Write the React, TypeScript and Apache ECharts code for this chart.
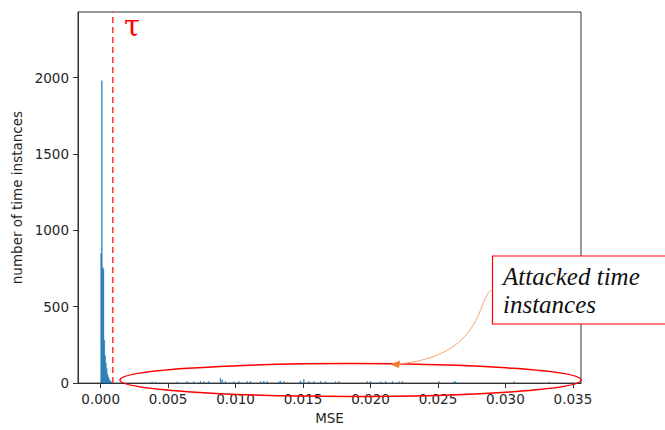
import React, { useEffect, useRef } from "react";
import * as echarts from "echarts";

// Histogram of MSE values (bin width in MSE units)
const binWidth = 0.00006;
// normal bins start at 0, consecutive
const normalCounts = [850, 1980, 760, 745, 280, 180, 130, 95, 60, 40, 25, 15, 10, 6, 4, 2];
// attacked (sparse) bins: start values and counts
const attackedStarts = [
  0.00378, 0.00403, 0.00564, 0.00638, 0.00687, 0.00737, 0.00761, 0.00798, 0.00885, 0.00898,
  0.00922, 0.00984, 0.01021, 0.01083, 0.01108, 0.01182, 0.01206, 0.01231, 0.01318, 0.0133,
  0.01355, 0.01478, 0.01503, 0.0154, 0.01577, 0.01627, 0.01664, 0.01738, 0.01763, 0.01973,
  0.01998, 0.02072, 0.02109, 0.02159, 0.02208, 0.02233, 0.02504, 0.02616, 0.02628, 0.03061,
  0.0332,
];
const attackedCounts = [
  8, 7, 8, 10, 9, 12, 10, 11, 32, 20,
  10, 9, 11, 10, 12, 11, 13, 10, 9, 12,
  11, 14, 24, 11, 10, 12, 10, 9, 11, 10,
  12, 9, 10, 11, 9, 10, 11, 9, 10, 9,
  8,
];
const tau = 0.0009;
const tauLineY = [0, 2430];
const xTicks = [0, 0.005, 0.01, 0.015, 0.02, 0.025, 0.03, 0.035];
const yTicks = [0, 500, 1000, 1500, 2000];

export default function App() {
  const ref = useRef<HTMLDivElement>(null);
  useEffect(() => {
    if (!ref.current) return;
    const chart = echarts.init(ref.current, undefined, { renderer: "svg" });
    const data: number[][] = [];
    normalCounts.forEach((c, i) => data.push([i * binWidth, (i + 1) * binWidth, c]));
    attackedStarts.forEach((s, i) => data.push([s, s + binWidth, attackedCounts[i]]));
    const font = "DejaVu Sans";
    const txt = "#262626";
    chart.setOption({
      animation: false,
      grid: {
        left: 78,
        right: 84,
        top: 12,
        bottom: 42,
        show: true,
        borderColor: "#333",
        borderWidth: 1,
        backgroundColor: "transparent",
      },
      xAxis: {
        type: "value",
        min: -0.00168,
        max: 0.0356,
        name: "MSE",
        nameLocation: "middle",
        nameGap: 27,
        nameTextStyle: { fontFamily: font, fontSize: 13.5, color: txt },
        axisLine: { show: true, onZero: false, lineStyle: { color: "#333", width: 1 } },
        axisTick: { show: true, length: 5, customValues: xTicks, lineStyle: { color: "#333" } },
        axisLabel: {
          customValues: xTicks,
          margin: 9,
          fontFamily: font,
          fontSize: 13.5,
          color: txt,
          formatter: (v: number) => v.toFixed(3),
        },
        splitLine: { show: false },
      },
      yAxis: {
        type: "value",
        min: 0,
        max: 2430,
        name: "number of time instances",
        nameLocation: "middle",
        nameGap: 53,
        nameTextStyle: { fontFamily: font, fontSize: 13.5, color: txt },
        axisLine: { show: true, onZero: false, lineStyle: { color: "#333", width: 1 } },
        axisTick: { show: true, length: 5, customValues: yTicks, lineStyle: { color: "#333" } },
        axisLabel: {
          customValues: yTicks,
          margin: 9,
          fontFamily: font,
          fontSize: 13.5,
          color: txt,
          formatter: (v: number) => String(v),
        },
        splitLine: { show: false },
      },
      series: [
        {
          type: "custom",
          encode: { x: [0, 1], y: 2 },
          data,
          renderItem: (params: any, api: any) => {
            const p0 = api.coord([api.value(0), api.value(2)]);
            const p1 = api.coord([api.value(1), 0]);
            return {
              type: "rect",
              shape: { x: p0[0], y: p0[1], width: Math.max(p1[0] - p0[0], 0.6), height: p1[1] - p0[1] },
              style: { fill: "#1f77b4", stroke: "#1f77b4", lineWidth: 0.35 },
            };
          },
          z: 2,
        },
        {
          type: "line",
          data: tauLineY.map((y) => [tau, y]),
          symbol: "none",
          silent: true,
          lineStyle: { color: "#ff3333", width: 1.5, type: [6, 4] },
          z: 3,
        },
      ],
      graphic: [
        {
          type: "text",
          left: 124,
          top: 11,
          style: { text: "τ", fill: "#ff0000", fontSize: 29, fontFamily: "DejaVu Serif" },
          z: 10,
        },
        {
          type: "ellipse",
          shape: { cx: 350.5, cy: 380, rx: 230.5, ry: 16.5 },
          style: { fill: "none", stroke: "#ff0000", lineWidth: 1.5 },
          z: 10,
        },
        {
          type: "bezierCurve",
          shape: { x1: 491, y1: 290, cpx1: 477, cpy1: 300, cpx2: 484, cpy2: 356, x2: 398, y2: 364 },
          style: { fill: "none", stroke: "#f4a36c", lineWidth: 1 },
          z: 10,
        },
        {
          type: "polygon",
          shape: { points: [[390, 364.5], [400, 360.5], [399, 368]] },
          style: { fill: "#ed7d31" },
          z: 10,
        },
        {
          type: "rect",
          shape: { x: 492.5, y: 256, width: 180, height: 68 },
          style: { fill: "#fff", stroke: "#ff0000", lineWidth: 1.2 },
          z: 10,
        },
        {
          type: "text",
          x: 503,
          y: 263,
          style: {
            text: "Attacked time\ninstances",
            fill: "#111",
            fontSize: 25,
            lineHeight: 27.5,
            fontStyle: "italic",
            fontFamily: "Liberation Serif",
          },
          z: 11,
        },
      ],
    });
    return () => chart.dispose();
  }, []);
  return (
    <div
      ref={ref}
      style={{ position: "absolute", left: 0, top: 0, width: 665, height: 430 }}
    />
  );
}
